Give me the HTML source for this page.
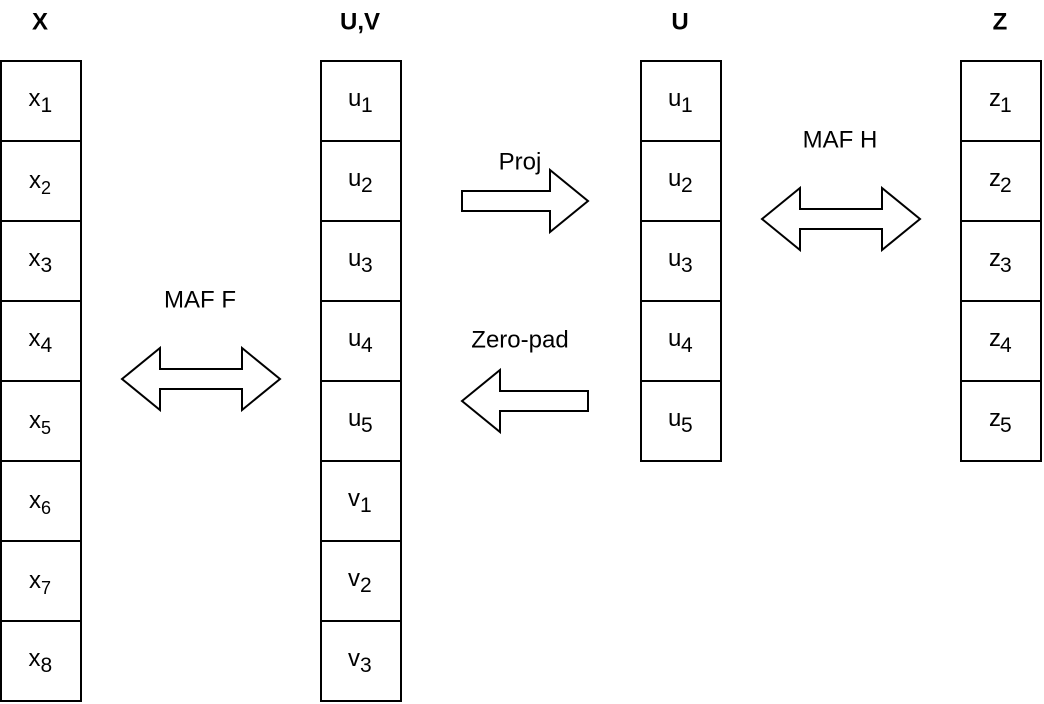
<!DOCTYPE html>
<html><head><meta charset="utf-8"><style>
html,body{margin:0;padding:0;background:#fff;width:1044px;height:704px;overflow:hidden}
svg{display:block}
text{font-family:"Liberation Sans",sans-serif;fill:#000}
.h{font-size:24px;font-weight:bold;text-anchor:middle}
.l{font-size:24px;text-anchor:middle}
.c{font-size:24px}
.a{font-size:21px}
.b{font-size:18px}
rect,polygon{fill:#fff;stroke:#000;stroke-width:2}
</style></head><body>
<svg width="1044" height="704" viewBox="0 0 1044 704" xmlns="http://www.w3.org/2000/svg">
<text class="h" x="40" y="29.4">X</text>
<text class="h" x="360" y="29.4">U,V</text>
<text class="h" x="680" y="29.4">U</text>
<text class="h" x="1000" y="29.4">Z</text>

<g>
<rect x="1" y="61" width="80" height="80"/><rect x="1" y="141" width="80" height="80"/><rect x="1" y="221" width="80" height="80"/><rect x="1" y="301" width="80" height="80"/><rect x="1" y="381" width="80" height="80"/><rect x="1" y="461" width="80" height="80"/><rect x="1" y="541" width="80" height="80"/><rect x="1" y="621" width="80" height="80"/>
<rect x="321" y="61" width="80" height="80"/><rect x="321" y="141" width="80" height="80"/><rect x="321" y="221" width="80" height="80"/><rect x="321" y="301" width="80" height="80"/><rect x="321" y="381" width="80" height="80"/><rect x="321" y="461" width="80" height="80"/><rect x="321" y="541" width="80" height="80"/><rect x="321" y="621" width="80" height="80"/>
<rect x="641" y="61" width="80" height="80"/><rect x="641" y="141" width="80" height="80"/><rect x="641" y="221" width="80" height="80"/><rect x="641" y="301" width="80" height="80"/><rect x="641" y="381" width="80" height="80"/>
<rect x="961" y="61" width="80" height="80"/><rect x="961" y="141" width="80" height="80"/><rect x="961" y="221" width="80" height="80"/><rect x="961" y="301" width="80" height="80"/><rect x="961" y="381" width="80" height="80"/>
</g>

<text x="28.5" y="106" class="c">x</text><text x="40.5" y="112" class="a">1</text>
<text x="29" y="188" class="c">x</text><text x="41" y="194" class="b">2</text>
<text x="28.5" y="266" class="c">x</text><text x="40.5" y="272" class="a">3</text>
<text x="28.5" y="346" class="c">x</text><text x="40.5" y="352" class="a">4</text>
<text x="29" y="428" class="c">x</text><text x="41" y="434" class="b">5</text>
<text x="29" y="508" class="c">x</text><text x="41" y="514" class="b">6</text>
<text x="29" y="588" class="c">x</text><text x="41" y="594" class="b">7</text>
<text x="28.5" y="666" class="c">x</text><text x="40.5" y="672" class="a">8</text>

<text x="348" y="106" class="c">u</text><text x="361" y="112" class="a">1</text>
<text x="348" y="186" class="c">u</text><text x="361" y="192" class="a">2</text>
<text x="348" y="266" class="c">u</text><text x="361" y="272" class="a">3</text>
<text x="348" y="346" class="c">u</text><text x="361" y="352" class="a">4</text>
<text x="348" y="426" class="c">u</text><text x="361" y="432" class="a">5</text>
<text x="348" y="506" class="c">v</text><text x="360" y="512" class="a">1</text>
<text x="348" y="586" class="c">v</text><text x="360" y="592" class="a">2</text>
<text x="348" y="666" class="c">v</text><text x="360" y="672" class="a">3</text>

<text x="668" y="106" class="c">u</text><text x="681" y="112" class="a">1</text>
<text x="668" y="186" class="c">u</text><text x="681" y="192" class="a">2</text>
<text x="668" y="266" class="c">u</text><text x="681" y="272" class="a">3</text>
<text x="668" y="346" class="c">u</text><text x="681" y="352" class="a">4</text>
<text x="668" y="426" class="c">u</text><text x="681" y="432" class="a">5</text>

<text x="989" y="106" class="c">z</text><text x="1000" y="112" class="a">1</text>
<text x="989" y="186" class="c">z</text><text x="1000" y="192" class="a">2</text>
<text x="989" y="266" class="c">z</text><text x="1000" y="272" class="a">3</text>
<text x="989" y="346" class="c">z</text><text x="1000" y="352" class="a">4</text>
<text x="989" y="426" class="c">z</text><text x="1000" y="432" class="a">5</text>

<polygon points="122,379 160,348 160,369 242,369 242,348 280,379 242,410 242,389 160,389 160,410"/>
<polygon points="462,191 550,191 550,170 588,201 550,232 550,211 462,211"/>
<polygon points="462,401 500,370 500,391 588,391 588,411 500,411 500,432"/>
<polygon points="762,219 800,188 800,209 882,209 882,188 920,219 882,250 882,229 800,229 800,250"/>

<text class="l" x="200" y="307.5">MAF F</text>
<text class="l" x="520" y="169.5">Proj</text>
<text class="l" x="520" y="347.5">Zero-pad</text>
<text class="l" x="840" y="147.5">MAF H</text>
</svg>
</body></html>
